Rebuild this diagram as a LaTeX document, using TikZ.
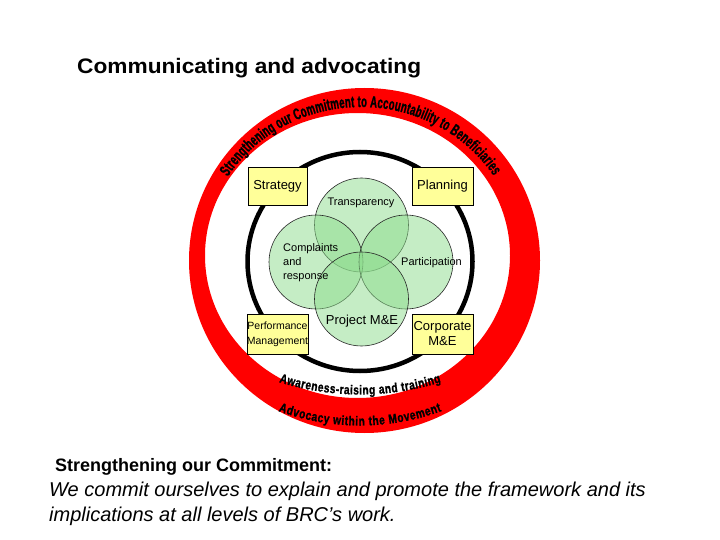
\documentclass[tikz,border=0pt]{standalone}
\usepackage{fontspec}
\setmainfont{Liberation Sans}
\newfontfamily\curvefontA[UprightFont={* Bold}, FakeStretch=0.6, FakeBold=1.2]{Liberation Sans}
\newfontfamily\curvefontB[UprightFont={* Bold}, FakeStretch=0.78, FakeBold=1.2]{Liberation Sans}
\usetikzlibrary{decorations.text}
\newcommand\topcurvefont{\curvefontA\fontsize{16}{16}\selectfont}
\newcommand\lowcurvefont{\curvefontB\fontsize{13}{13}\selectfont}
\definecolor{boxyellow}{RGB}{255,255,153}
\definecolor{venngreen}{RGB}{140,220,140}
\definecolor{ringred}{RGB}{255,0,0}
\begin{document}
\begin{tikzpicture}[x=1pt,y=1pt,
  box/.style={draw=black, line width=0.6pt, fill=boxyellow, minimum width=59pt, minimum height=38pt, inner sep=0pt, align=center},
  venn/.style={circle, draw=black!85, line width=0.6pt, fill=venngreen, fill opacity=0.5, draw opacity=1, minimum size=94pt, inner sep=0pt},
  lbl/.style={inner sep=0pt, text=black}
]
\useasboundingbox (0,0) rectangle (720,-540);
\fill[white] (0,0) rectangle (720,-540);

% red ring
\fill[ringred, even odd rule] (364.5,-260.5) ellipse [x radius=175.5, y radius=172.5]
                              (357.5,-255.5) ellipse [x radius=152.5, y radius=142.5];
% black ring
\draw[line width=4.5pt] (360,-261.5) ellipse [x radius=112.5, y radius=109.5];

% Venn circles
\node[venn] (ctrans) at (361.5,-225) {};
\node[venn] (ccompl) at (316,-262) {};
\node[venn] (cpart) at (406,-262) {};
\node[venn] (cproj) at (361.5,-299) {};

% boxes
\node[box, font=\fontsize{13}{15}\selectfont] (strategy) at (277.5,-186) {Strategy};
\node[box, font=\fontsize{13}{15}\selectfont, minimum width=61pt] (planning) at (442.5,-186) {Planning};
\node[box, font=\fontsize{10.5}{15}\selectfont, minimum height=40pt] (perf) at (277.5,-334) {Performance\\Management};
\node[box, font=\fontsize{13}{15}\selectfont, minimum width=61pt, minimum height=40pt] (corp) at (442.5,-334) {Corporate\\M\&E};

% Venn labels
\node[lbl, font=\fontsize{11}{14}\selectfont] (ttrans) at (361,-203) {Transparency};
\node[lbl, font=\fontsize{11}{14}\selectfont, align=left, anchor=west] (tcompl) at (283,-263) {Complaints\\and\\response};
\node[lbl, font=\fontsize{11}{14}\selectfont] (tpart) at (431.5,-263) {Participation};
\node[lbl, font=\fontsize{13}{15}\selectfont] (tproj) at (362,-321) {Project M\&E};

% curved texts
\path[shift={(361,-258)}, decorate, decoration={text along path, text align={fit to path},
  text={|\topcurvefont|Strengthening our Commitment to Accountability to Beneficiaries}}]
  (147.5:158 and 151) arc[start angle=147.5, end angle=33, x radius=158, y radius=151];
\path[shift={(360,-122)}, decorate, decoration={text along path, text align={fit to path},
  text={|\lowcurvefont|Awareness-raising and training}}]
  (-107.3:272.5) arc[start angle=-107.3, end angle=-72.7, radius=272.5];
\path[shift={(360,-187)}, decorate, decoration={text along path, text align={fit to path},
  text={|\lowcurvefont|Advocacy within the Movement}}]
  (-110:238.5) arc[start angle=-110, end angle=-70, radius=238.5];

% title and bottom text
\node[lbl, anchor=base west, font=\bfseries\fontsize{21}{21}\selectfont] (title) at (77,-74) {\scalebox{1.08}[1]{Communicating and advocating}};
\node[lbl, anchor=base west, font=\bfseries\fontsize{18}{18}\selectfont] (commit) at (55,-471) {Strengthening our Commitment:};
\node[lbl, anchor=base west, font=\itshape\fontsize{20}{20}\selectfont] (body1) at (49,-496) {We commit ourselves to explain and promote the framework and its};
\node[lbl, anchor=base west, font=\itshape\fontsize{20}{20}\selectfont] (body2) at (49,-521) {implications at all levels of BRC’s work.};
\end{tikzpicture}
\end{document}
